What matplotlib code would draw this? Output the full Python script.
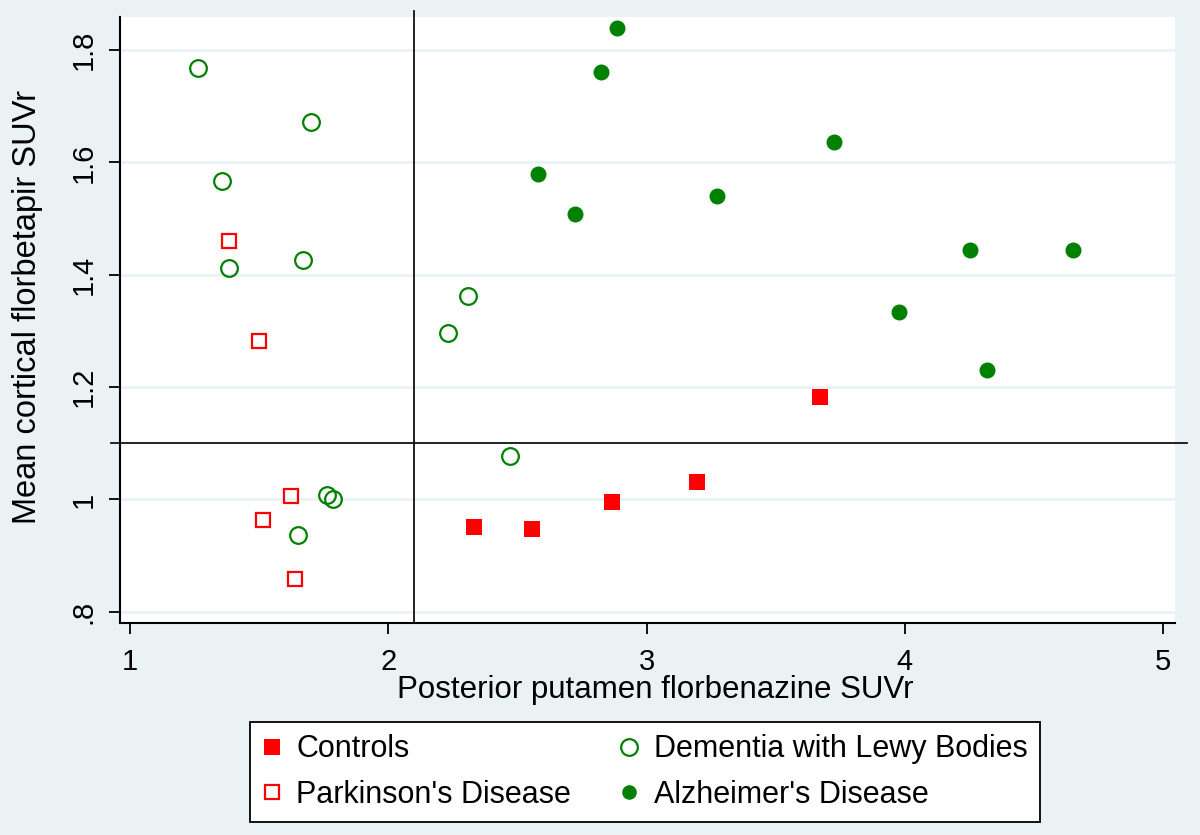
import matplotlib
matplotlib.use("Agg")
import matplotlib.pyplot as plt
from matplotlib.lines import Line2D

plt.rcParams['font.family'] = ['Liberation Sans', 'DejaVu Sans']

# ---- data ----
controls_x = [2.333, 2.556, 2.865, 3.195, 3.672]
controls_y = [0.951, 0.947, 0.996, 1.031, 1.182]

pd_x = [1.383, 1.499, 1.622, 1.516, 1.640]
pd_y = [1.460, 1.282, 1.007, 0.963, 0.858]

dlb_x = [1.263, 1.701, 1.356, 1.383, 1.670, 2.310, 2.232, 2.471, 1.762, 1.787, 1.649]
dlb_y = [1.768, 1.672, 1.567, 1.412, 1.426, 1.362, 1.297, 1.078, 1.008, 1.000, 0.937]

ad_x = [2.885, 2.823, 3.727, 2.581, 2.724, 3.271, 4.254, 4.651, 3.977, 4.317]
ad_y = [1.840, 1.761, 1.637, 1.580, 1.508, 1.541, 1.444, 1.444, 1.334, 1.231]

x_ref = 2.1
y_ref = 1.1

x_ticks = [1, 2, 3, 4, 5]
x_ticklabels = ['1', '2', '3', '4', '5']
y_ticks = [0.8, 1.0, 1.2, 1.4, 1.6, 1.8]
y_ticklabels = ['.8', '1', '1.2', '1.4', '1.6', '1.8']

x_label = 'Posterior putamen florbenazine SUVr'
y_label = 'Mean cortical florbetapir SUVr'
legend_labels = ['Controls', "Parkinson's Disease", 'Dementia with Lewy Bodies', "Alzheimer's Disease"]

# ---- style ----
BG = '#EAF2F3'
RED = '#FF0000'
GREEN = '#008000'
FS_TICK = 21
FS_XLABEL = 22.5
FS_YLABEL = 23.5
FS_LEG = 22

fig = plt.figure(figsize=(12, 8.35), dpi=100, facecolor=BG)
ax = fig.add_axes([120/1200, 1-623/835, 1055/1200, 606/835])
ax.set_facecolor('white')

ax.set_xlim(0.961, 5.046)
ax.set_ylim(0.780, 1.859)

for s in ['top', 'right']:
    ax.spines[s].set_visible(False)
for s in ['left', 'bottom']:
    ax.spines[s].set_linewidth(1.5)
    ax.spines[s].set_color('black')

ax.set_yticks(y_ticks)
ax.set_yticklabels(y_ticklabels)
ax.set_xticks(x_ticks)
ax.set_xticklabels(x_ticklabels)
ax.tick_params(axis='both', labelsize=FS_TICK, length=8, width=1.3, color='black', direction='out')
ax.tick_params(axis='y', labelrotation=90, pad=8)
ax.tick_params(axis='x', pad=10)
for lab in ax.get_yticklabels():
    lab.set_va('center')

ax.yaxis.grid(True, color=BG, linewidth=2.0)
ax.set_axisbelow(True)

# reference lines (slightly extending beyond plot region, Stata style)
ax.axvline(x_ref, ymin=0.0017, ymax=1.0099, color='#111111', linewidth=1.3, clip_on=False, zorder=1.5)
ax.axhline(y_ref, xmin=-0.0085, xmax=1.0114, color='#111111', linewidth=1.3, clip_on=False, zorder=1.5)

ax.plot(controls_x, controls_y, linestyle='none', marker='s', markersize=11.5,
        markerfacecolor=RED, markeredgecolor=RED, markeredgewidth=0, zorder=3)
ax.plot(pd_x, pd_y, linestyle='none', marker='s', markersize=9.5,
        markerfacecolor='none', markeredgecolor=RED, markeredgewidth=1.6, zorder=3)
ax.plot(dlb_x, dlb_y, linestyle='none', marker='o', markersize=12,
        markerfacecolor='none', markeredgecolor=GREEN, markeredgewidth=1.6, zorder=3)
ax.plot(ad_x, ad_y, linestyle='none', marker='o', markersize=11.5,
        markerfacecolor=GREEN, markeredgecolor=GREEN, markeredgewidth=0, zorder=3)

ax.set_xlabel(x_label, fontsize=FS_XLABEL)
ax.set_ylabel(y_label, fontsize=FS_YLABEL)
ax.xaxis.set_label_coords((655-120)/1055, -0.085)
ax.yaxis.set_label_coords((43-120)/1055, (623-306.5)/606)

handles = [
    Line2D([], [], linestyle='none', marker='s', markersize=11, markerfacecolor=RED, markeredgecolor=RED, markeredgewidth=0),
    Line2D([], [], linestyle='none', marker='s', markersize=9.5, markerfacecolor='none', markeredgecolor=RED, markeredgewidth=1.6),
    Line2D([], [], linestyle='none', marker='o', markersize=12, markerfacecolor='none', markeredgecolor=GREEN, markeredgewidth=1.6),
    Line2D([], [], linestyle='none', marker='o', markersize=10.5, markerfacecolor=GREEN, markeredgecolor=GREEN, markeredgewidth=0),
]
leg = fig.legend(handles, legend_labels, ncol=2, loc='center',
                 bbox_to_anchor=(645/1200, 1-772/835), fontsize=FS_LEG,
                 frameon=True, fancybox=False, edgecolor='black', facecolor='white',
                 framealpha=1.0,
                 handlelength=0.6, handletextpad=0.5, columnspacing=1.6,
                 labelspacing=0.5, borderpad=0.42)
leg.get_frame().set_linewidth(1.3)

fig.savefig('out.png', dpi=100, facecolor=BG)
